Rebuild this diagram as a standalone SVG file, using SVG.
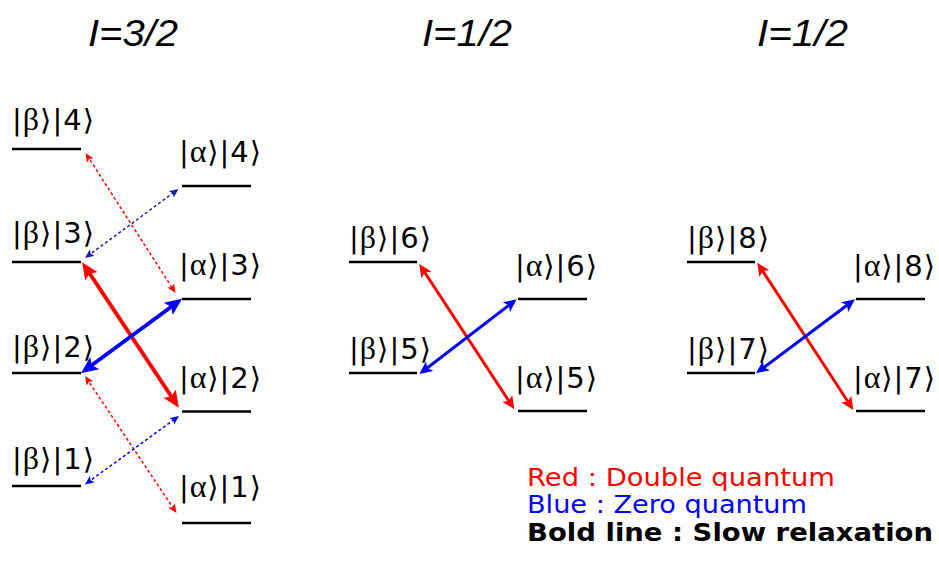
<svg xmlns="http://www.w3.org/2000/svg" width="939" height="566" viewBox="0 0 939 566">
<style>
.title{font-family:"Liberation Sans",Arial,sans-serif;font-style:italic;font-size:36px;fill:#000}
.lbl{font-family:"DejaVu Sans",Verdana,sans-serif;font-size:29px;fill:#000}
.gr{font-family:"Liberation Serif","DejaVu Serif",serif;font-size:32px}
.lvl{stroke:#000;stroke-width:2.6;fill:none}
.leg{font-family:"DejaVu Sans",Verdana,sans-serif;font-size:25px}
.c{fill:none}
.rb{stroke:#ff0000;stroke-width:4}
.bb{stroke:#0000ff;stroke-width:4}
.rm{stroke:#ff0000;stroke-width:3}
.bm{stroke:#0000ff;stroke-width:3}
.rd{stroke:#ff0000;stroke-width:1.5;stroke-dasharray:3 2.5}
.nd{stroke:#1c1ca8;stroke-width:1.5;stroke-dasharray:3 2.5}
.bd{stroke:#0000ff;stroke-width:1.5;stroke-dasharray:3 2.5}
</style>
<defs>
<marker id="hR4" markerUnits="userSpaceOnUse" markerWidth="18" markerHeight="15" refX="10" refY="7.5" orient="auto-start-reverse" viewBox="0 0 18 15"><path d="M0,0 L17,7.5 L0,15 L3.5,7.5 z" fill="#ff0000"/></marker>
<marker id="hB4" markerUnits="userSpaceOnUse" markerWidth="18" markerHeight="15" refX="10" refY="7.5" orient="auto-start-reverse" viewBox="0 0 18 15"><path d="M0,0 L17,7.5 L0,15 L3.5,7.5 z" fill="#0000ff"/></marker>
<marker id="hR3" markerUnits="userSpaceOnUse" markerWidth="14" markerHeight="12" refX="8" refY="6" orient="auto-start-reverse" viewBox="0 0 14 12"><path d="M0,0 L13,6 L0,12 L3,6 z" fill="#ff0000"/></marker>
<marker id="hB3" markerUnits="userSpaceOnUse" markerWidth="14" markerHeight="12" refX="8" refY="6" orient="auto-start-reverse" viewBox="0 0 14 12"><path d="M0,0 L13,6 L0,12 L3,6 z" fill="#0000ff"/></marker>
<marker id="hRd" markerUnits="userSpaceOnUse" markerWidth="10" markerHeight="8" refX="6" refY="4" orient="auto-start-reverse" viewBox="0 0 10 8"><path d="M0,0 L9,4 L0,8 L2,4 z" fill="#ff0000"/></marker>
<marker id="hNd" markerUnits="userSpaceOnUse" markerWidth="10" markerHeight="8" refX="6" refY="4" orient="auto-start-reverse" viewBox="0 0 10 8"><path d="M0,0 L9,4 L0,8 L2,4 z" fill="#1c1ca8"/></marker>
<marker id="hBd" markerUnits="userSpaceOnUse" markerWidth="10" markerHeight="8" refX="6" refY="4" orient="auto-start-reverse" viewBox="0 0 10 8"><path d="M0,0 L9,4 L0,8 L2,4 z" fill="#0000ff"/></marker>
</defs>
<rect width="939" height="566" fill="#fff"/>

<g id="titles">
<text class="title" x="88" y="46" textLength="90" lengthAdjust="spacingAndGlyphs">I=3/2</text>
<text class="title" x="422" y="46" textLength="90" lengthAdjust="spacingAndGlyphs">I=1/2</text>
<text class="title" x="757" y="46" textLength="91" lengthAdjust="spacingAndGlyphs">I=1/2</text>
</g>

<g id="b4"><line class="lvl" x1="12" y1="149" x2="81" y2="149"/><text class="lbl" x="12" y="130" textLength="82" lengthAdjust="spacing">|<tspan class="gr">β</tspan>⟩|4⟩</text></g>
<g id="a4"><line class="lvl" x1="182" y1="186" x2="251" y2="186"/><text class="lbl" x="179" y="162" textLength="82" lengthAdjust="spacing">|<tspan class="gr">α</tspan>⟩|4⟩</text></g>
<g id="b3"><line class="lvl" x1="12" y1="262" x2="81" y2="262"/><text class="lbl" x="12" y="243" textLength="82" lengthAdjust="spacing">|<tspan class="gr">β</tspan>⟩|3⟩</text></g>
<g id="a3"><line class="lvl" x1="182" y1="299" x2="251" y2="299"/><text class="lbl" x="179" y="275" textLength="82" lengthAdjust="spacing">|<tspan class="gr">α</tspan>⟩|3⟩</text></g>
<g id="b2"><line class="lvl" x1="12" y1="373" x2="81" y2="373"/><text class="lbl" x="12" y="357" textLength="82" lengthAdjust="spacing">|<tspan class="gr">β</tspan>⟩|2⟩</text></g>
<g id="a2"><line class="lvl" x1="182" y1="411.5" x2="251" y2="411.5"/><text class="lbl" x="179" y="388" textLength="82" lengthAdjust="spacing">|<tspan class="gr">α</tspan>⟩|2⟩</text></g>
<g id="b1"><line class="lvl" x1="12" y1="486" x2="81" y2="486"/><text class="lbl" x="12" y="469" textLength="82" lengthAdjust="spacing">|<tspan class="gr">β</tspan>⟩|1⟩</text></g>
<g id="a1"><line class="lvl" x1="182" y1="523" x2="251" y2="523"/><text class="lbl" x="179" y="497" textLength="82" lengthAdjust="spacing">|<tspan class="gr">α</tspan>⟩|1⟩</text></g>

<g id="b6"><line class="lvl" x1="349" y1="262" x2="417" y2="262"/><text class="lbl" x="349" y="248" textLength="82" lengthAdjust="spacing">|<tspan class="gr">β</tspan>⟩|6⟩</text></g>
<g id="a6"><line class="lvl" x1="518" y1="299" x2="587" y2="299"/><text class="lbl" x="515" y="276" textLength="82" lengthAdjust="spacing">|<tspan class="gr">α</tspan>⟩|6⟩</text></g>
<g id="b5"><line class="lvl" x1="349" y1="373" x2="417" y2="373"/><text class="lbl" x="349" y="359" textLength="82" lengthAdjust="spacing">|<tspan class="gr">β</tspan>⟩|5⟩</text></g>
<g id="a5"><line class="lvl" x1="518" y1="411" x2="587" y2="411"/><text class="lbl" x="515" y="388" textLength="82" lengthAdjust="spacing">|<tspan class="gr">α</tspan>⟩|5⟩</text></g>

<g id="b8"><line class="lvl" x1="687" y1="262" x2="755" y2="262"/><text class="lbl" x="687" y="248" textLength="82" lengthAdjust="spacing">|<tspan class="gr">β</tspan>⟩|8⟩</text></g>
<g id="a8"><line class="lvl" x1="856" y1="299" x2="925" y2="299"/><text class="lbl" x="853" y="276" textLength="82" lengthAdjust="spacing">|<tspan class="gr">α</tspan>⟩|8⟩</text></g>
<g id="b7"><line class="lvl" x1="687" y1="373" x2="755" y2="373"/><text class="lbl" x="687" y="359" textLength="82" lengthAdjust="spacing">|<tspan class="gr">β</tspan>⟩|7⟩</text></g>
<g id="a7"><line class="lvl" x1="856" y1="411" x2="925" y2="411"/><text class="lbl" x="853" y="388" textLength="82" lengthAdjust="spacing">|<tspan class="gr">α</tspan>⟩|7⟩</text></g>

<g id="connectors" class="c">
<line class="rd" x1="87.1" y1="155.5" x2="173.9" y2="290.5" marker-start="url(#hRd)" marker-end="url(#hRd)"/>
<line class="nd" x1="87.4" y1="256.2" x2="176.1" y2="190.8" marker-start="url(#hNd)" marker-end="url(#hNd)"/>
<line class="rb" x1="86" y1="268" x2="175" y2="402" marker-start="url(#hR4)" marker-end="url(#hR4)"/>
<line class="bb" x1="176.4" y1="303" x2="86.6" y2="369" marker-start="url(#hB4)" marker-end="url(#hB4)"/>
<line class="rd" x1="86.7" y1="378.5" x2="174.8" y2="510.5" marker-start="url(#hRd)" marker-end="url(#hRd)"/>
<line class="bd" x1="87.4" y1="482.7" x2="176.6" y2="417.8" marker-start="url(#hBd)" marker-end="url(#hBd)"/>
<line class="rm" x1="422" y1="268.2" x2="511.6" y2="405.1" marker-start="url(#hR3)" marker-end="url(#hR3)"/>
<line class="bm" x1="512.7" y1="302.3" x2="423.3" y2="371" marker-start="url(#hB3)" marker-end="url(#hB3)"/>
<line class="rm" x1="760" y1="266.9" x2="850.6" y2="405.8" marker-start="url(#hR3)" marker-end="url(#hR3)"/>
<line class="bm" x1="851" y1="302.3" x2="760" y2="370.3" marker-start="url(#hB3)" marker-end="url(#hB3)"/>
</g>

<g id="legend">
<text class="leg" x="527" y="486" fill="#ff0000" textLength="308" lengthAdjust="spacingAndGlyphs">Red : Double quantum</text>
<text class="leg" x="527" y="513" fill="#0000ff" textLength="280" lengthAdjust="spacingAndGlyphs">Blue : Zero quantum</text>
<text class="leg" x="527" y="541" fill="#000" font-weight="bold" textLength="406" lengthAdjust="spacingAndGlyphs">Bold line : Slow relaxation</text>
</g>
</svg>
